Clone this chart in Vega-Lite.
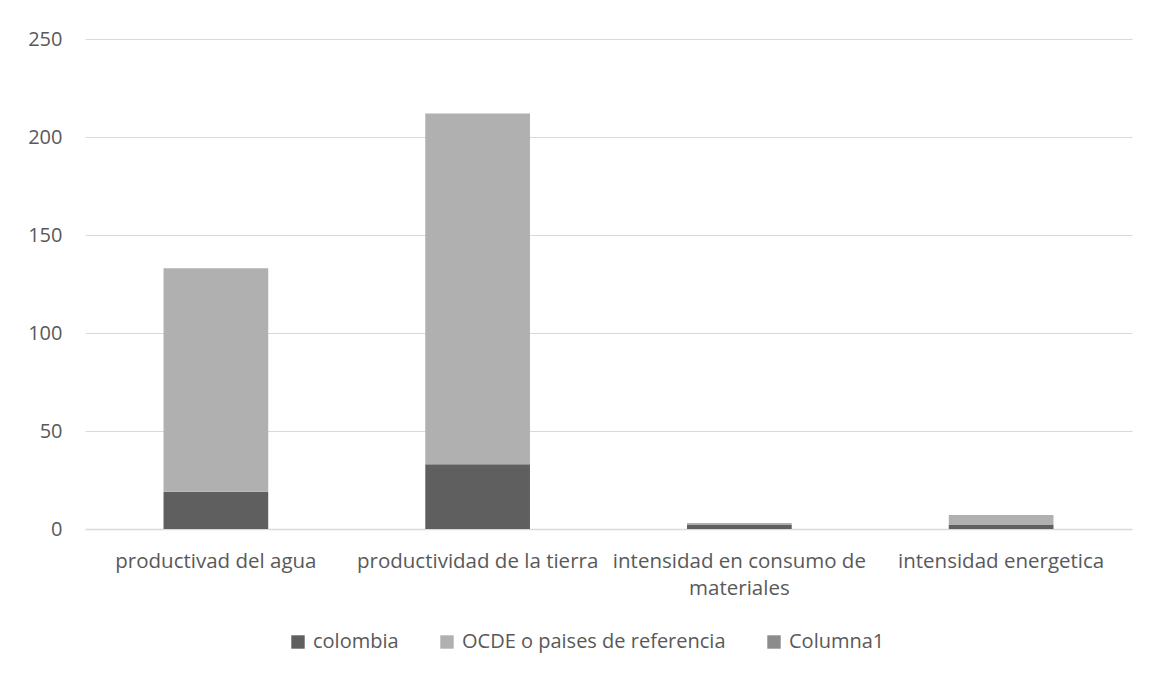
{
  "$schema": "https://vega.github.io/schema/vega-lite/v6.json",
  "autosize": {"type": "none"},
  "width": 1047,
  "height": 490,
  "padding": {"left": 85, "top": 39, "right": 25, "bottom": 146},
  "background": "white",
  "config": {
    "font": "Open Sans",
    "view": {"stroke": null},
    "axis": {"labelColor": "#595959", "labelFont": "Open Sans", "labelFontSize": 20},
    "legend": {"labelColor": "#595959", "labelFont": "Open Sans", "labelFontSize": 20}
  },
  "data": {
    "values": [
      {"categoria": "productivad del agua", "serie": "colombia", "orden": 1, "valor": 19},
      {"categoria": "productivad del agua", "serie": "OCDE o paises de referencia", "orden": 2, "valor": 114},
      {"categoria": "productivad del agua", "serie": "Columna1", "orden": 3, "valor": 0},
      {"categoria": "productividad de la tierra", "serie": "colombia", "orden": 1, "valor": 33},
      {"categoria": "productividad de la tierra", "serie": "OCDE o paises de referencia", "orden": 2, "valor": 179},
      {"categoria": "productividad de la tierra", "serie": "Columna1", "orden": 3, "valor": 0},
      {"categoria": "intensidad en consumo de materiales", "serie": "colombia", "orden": 1, "valor": 2.1},
      {"categoria": "intensidad en consumo de materiales", "serie": "OCDE o paises de referencia", "orden": 2, "valor": 1},
      {"categoria": "intensidad en consumo de materiales", "serie": "Columna1", "orden": 3, "valor": 0},
      {"categoria": "intensidad energetica", "serie": "colombia", "orden": 1, "valor": 2.3},
      {"categoria": "intensidad energetica", "serie": "OCDE o paises de referencia", "orden": 2, "valor": 4.9},
      {"categoria": "intensidad energetica", "serie": "Columna1", "orden": 3, "valor": 0}
    ]
  },
  "mark": {"type": "bar"},
  "encoding": {
    "x": {
      "field": "categoria",
      "type": "nominal",
      "sort": null,
      "scale": {"paddingInner": 0.6, "paddingOuter": 0.3},
      "axis": {
        "title": null,
        "labelAngle": 0,
        "ticks": false,
        "domainColor": "#d9d9d9",
        "domainWidth": 1.5,
        "labelPadding": 22,
        "labelLimit": 300,
        "labelFontSize": 20.5,
        "labelLineHeight": 27,
        "labelExpr": "datum.label == 'intensidad en consumo de materiales' ? ['intensidad en consumo de', 'materiales'] : datum.label"
      }
    },
    "y": {
      "field": "valor",
      "type": "quantitative",
      "stack": "zero",
      "scale": {"domain": [0, 250]},
      "axis": {
        "title": null,
        "values": [0, 50, 100, 150, 200, 250],
        "domain": false,
        "ticks": false,
        "gridColor": "#d9d9d9",
        "gridWidth": 1,
        "labelPadding": 23
      }
    },
    "color": {
      "field": "serie",
      "type": "nominal",
      "scale": {
        "domain": ["colombia", "OCDE o paises de referencia", "Columna1"],
        "range": ["#5f5f5f", "#b0b0b0", "#8c8c8c"]
      },
      "legend": {
        "title": null,
        "orient": "none",
        "legendX": 203,
        "legendY": 593,
        "direction": "horizontal",
        "symbolType": "square",
        "symbolSize": 180,
        "symbolStrokeWidth": 0,
        "columnPadding": 38,
        "labelOffset": 5,
        "labelLimit": 400
      }
    },
    "order": {"field": "orden", "type": "quantitative"}
  }
}
